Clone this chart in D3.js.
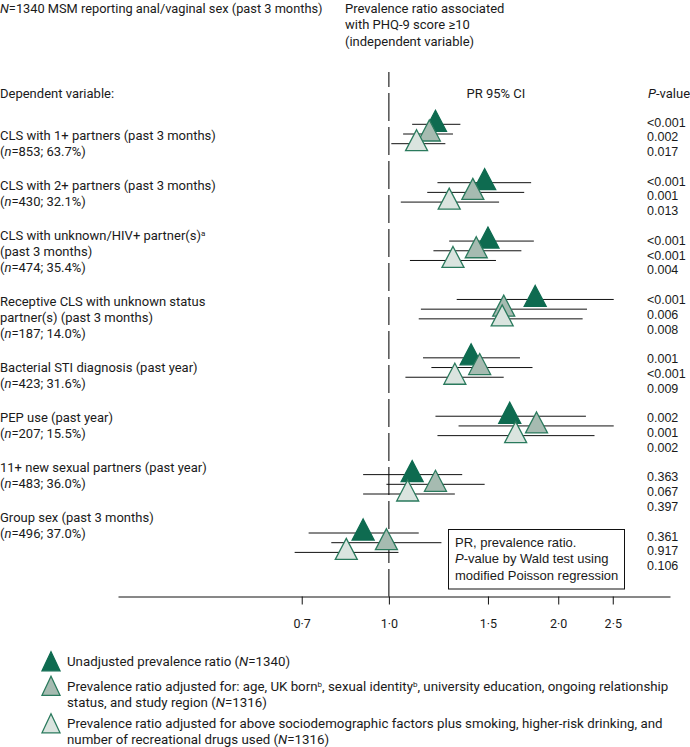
<!DOCTYPE html>
<html>
<head>
<meta charset="utf-8">
<script src="https://cdn.jsdelivr.net/npm/d3@7"></script>
<style>
  body { margin: 0; background: #fff; }
  svg { display: block; }
</style>
</head>
<body>
<svg width="690" height="747"></svg>
<script>
// outcomes (dependent variables)
const outcomeLines = [
  ["CLS with 1+ partners (past 3 months)"],
  ["CLS with 2+ partners (past 3 months)"],
  ["CLS with unknown/HIV+ partner(s)^a^", "(past 3 months)"],
  ["Receptive CLS with unknown status", "partner(s) (past 3 months)"],
  ["Bacterial STI diagnosis (past year)"],
  ["PEP use (past year)"],
  ["11+ new sexual partners (past year)"],
  ["Group sex (past 3 months)"]
];
const outcomeN = ["853; 63.7%", "430; 32.1%", "474; 35.4%", "187; 14.0%", "423; 31.6%", "207; 15.5%", "483; 36.0%", "496; 37.0%"];

// prevalence ratios + 95% CI
const unadjPR = [1.21, 1.48, 1.50, 1.82, 1.40, 1.64, 1.10, 0.90];
const unadjLo = [1.10, 1.22, 1.28, 1.32, 1.15, 1.21, 0.90, 0.72];
const unadjHi = [1.34, 1.79, 1.81, 2.51, 1.71, 2.24, 1.35, 1.13];
const unadjP  = ["<0.001", "<0.001", "<0.001", "<0.001", "0.001", "0.002", "0.363", "0.361"];

const adj1PR = [1.18, 1.41, 1.43, 1.60, 1.45, 1.83, 1.21, 0.99];
const adj1Lo = [1.06, 1.17, 1.20, 1.14, 1.19, 1.33, 0.99, 0.79];
const adj1Hi = [1.30, 1.74, 1.72, 2.25, 1.80, 2.51, 1.48, 1.24];
const adj1P  = ["0.002", "0.001", "<0.001", "0.006", "<0.001", "0.001", "0.067", "0.917"];

const adj2PR = [1.12, 1.28, 1.30, 1.59, 1.31, 1.68, 1.08, 0.84];
const adj2Lo = [1.01, 1.05, 1.09, 1.13, 1.07, 1.22, 0.90, 0.68];
const adj2Hi = [1.26, 1.57, 1.55, 2.21, 1.60, 2.32, 1.31, 1.04];
const adj2P  = ["0.017", "0.013", "0.004", "0.008", "0.009", "0.002", "0.397", "0.106"];

const tickValues = [0.7, 1.0, 1.5, 2.0, 2.5];
const tickLabels = ["0·7", "1·0", "1·5", "2·0", "2·5"];

const legendLines = [
  ["Unadjusted prevalence ratio (*N*=1340)"],
  ["Prevalence ratio adjusted for: age, UK born^b^, sexual identity^b^, university education, ongoing relationship",
   "status, and study region (*N*=1316)"],
  ["Prevalence ratio adjusted for above sociodemographic factors plus smoking, higher-risk drinking, and",
   "number of recreational drugs used (*N*=1316)"]
];

const series = [
  { pr: unadjPR, lo: unadjLo, hi: unadjHi, p: unadjP, fill: "#0e6b50", stroke: "#0e6b50" },
  { pr: adj1PR, lo: adj1Lo, hi: adj1Hi, p: adj1P, fill: "#a6bbb1", stroke: "#2a7a5d" },
  { pr: adj2PR, lo: adj2Lo, hi: adj2Hi, p: adj2P, fill: "#dae4df", stroke: "#2a7a5d" }
];

const labelFont = "Roboto, 'Liberation Sans', sans-serif";
const plainFont = "'Liberation Sans', Arial, sans-serif";

const svg = d3.select("svg");

const x = d3.scaleLog().domain([0.33, 3.16]).range([118, 670]);
const rowY = d3.scaleLinear().domain([0, 7]).range([124.3, 533]);
const pY = d3.scaleLinear().domain([0, 7]).range([122, 536]);
const seriesOff = [0, 9.7, 19.4];
const axisY = 596.5;

// text with *italic* and ^superscript^ parts
function rich(sel, str) {
  str.split(/(\*[^*]+\*|\^[^^]+\^)/).filter(s => s).forEach(s => {
    if (s[0] === "*") sel.append("tspan").attr("font-style", "italic").text(s.slice(1, -1));
    else if (s[0] === "^") sel.append("tspan").attr("baseline-shift", "super").attr("font-size", "8px").text(s.slice(1, -1));
    else sel.append("tspan").text(s);
  });
}

function tri(w, h) {
  return "M0," + (-2 * h / 3) + "L" + (w / 2) + "," + (h / 3) + "L" + (-w / 2) + "," + (h / 3) + "Z";
}

// headers
rich(svg.append("text").attr("x", 0).attr("y", 13).attr("font-family", labelFont).attr("font-size", 12.8).attr("fill", "#1a1a1a"),
  "*N*=1340 MSM reporting anal/vaginal sex (past 3 months)");
["Prevalence ratio associated", "with PHQ-9 score ≥10", "(independent variable)"].forEach((t, i) => {
  svg.append("text").attr("x", 345).attr("y", 13 + i * 16.3)
    .attr("font-family", labelFont).attr("font-size", 13).attr("fill", "#1a1a1a").text(t);
});
svg.append("text").attr("x", 0).attr("y", 97.5).attr("font-family", labelFont).attr("font-size", 13)
  .attr("fill", "#1a1a1a").text("Dependent variable:");
svg.append("text").attr("x", 466.5).attr("y", 97.5).attr("font-family", labelFont).attr("font-size", 13)
  .attr("fill", "#1a1a1a").text("PR 95% CI");
rich(svg.append("text").attr("x", 648).attr("y", 97.5).attr("font-family", labelFont).attr("font-size", 13).attr("fill", "#1a1a1a"),
  "*P*-value");

// outcome labels, flowed down the left side
let ly = 135;
outcomeLines.forEach((lines, i) => {
  lines.concat(["(*n*=" + outcomeN[i] + ")"]).forEach(line => {
    rich(svg.append("text").attr("x", 0).attr("y", ly + 4.5)
      .attr("font-family", labelFont).attr("font-size", 13).attr("fill", "#1a1a1a"), line);
    ly += 16;
  });
  ly += 18;
});

// reference line at PR = 1
svg.append("line")
  .attr("x1", x(1)).attr("x2", x(1))
  .attr("y1", 72).attr("y2", axisY)
  .attr("stroke", "#111").attr("stroke-width", 1.1)
  .attr("stroke-dasharray", "28,6").attr("stroke-dashoffset", 13);

// x axis
const xAxis = svg.append("g")
  .attr("transform", "translate(0," + axisY + ")")
  .call(d3.axisBottom(x).tickValues(tickValues).tickSize(8).tickSizeOuter(0)
    .tickFormat((d, i) => tickLabels[i]));
xAxis.select(".domain").attr("stroke", "#111");
xAxis.selectAll(".tick line").attr("stroke", "#111");
xAxis.selectAll(".tick text").attr("font-family", labelFont).attr("font-size", 12.5)
  .attr("fill", "#1a1a1a").attr("dy", "1.6em");

// CI lines first, triangles on top
series.forEach((s, k) => {
  svg.append("g").selectAll("line").data(s.pr).join("line")
    .attr("x1", (d, i) => x(s.lo[i])).attr("x2", (d, i) => x(s.hi[i]))
    .attr("y1", (d, i) => rowY(i) + seriesOff[k]).attr("y2", (d, i) => rowY(i) + seriesOff[k])
    .attr("stroke", "#111").attr("stroke-width", 1);
});
series.forEach((s, k) => {
  svg.append("g").selectAll("path").data(s.pr).join("path")
    .attr("d", tri(22, 21))
    .attr("transform", (d, i) => "translate(" + x(d) + "," + (rowY(i) + seriesOff[k]) + ")")
    .attr("fill", s.fill).attr("stroke", s.stroke).attr("stroke-width", 1.3)
    .attr("stroke-linejoin", "miter");
});

// p-values
series.forEach((s, k) => {
  svg.append("g").selectAll("text").data(s.p).join("text")
    .attr("x", 647).attr("y", (d, i) => pY(i) + k * 14.8 + 4.5)
    .attr("font-family", plainFont).attr("font-size", 12.5).attr("fill", "#1a1a1a")
    .text(d => d);
});

// note box
svg.append("rect").attr("x", 448.5).attr("y", 529.5).attr("width", 176).attr("height", 59.5)
  .attr("fill", "#fff").attr("stroke", "#111").attr("stroke-width", 1);
["PR, prevalence ratio.", "*P*-value by Wald test using", "modified Poisson regression"].forEach((t, i) => {
  rich(svg.append("text").attr("x", 455).attr("y", 547 + i * 16.4)
    .attr("font-family", plainFont).attr("font-size", 13).attr("fill", "#1a1a1a"), t);
});

// legend
const legRowY = [661.5, 686, 723.5];
legendLines.forEach((lines, k) => {
  svg.append("path").attr("d", tri(18, 19))
    .attr("transform", "translate(51," + (legRowY[k] + 3) + ")")
    .attr("fill", series[k].fill).attr("stroke", series[k].stroke).attr("stroke-width", 1.3);
  lines.forEach((line, j) => {
    rich(svg.append("text").attr("x", 67).attr("y", legRowY[k] + j * 16 + 4.5)
      .attr("font-family", labelFont).attr("font-size", 13.3).attr("fill", "#1a1a1a"), line);
  });
});
</script>
</body>
</html>
